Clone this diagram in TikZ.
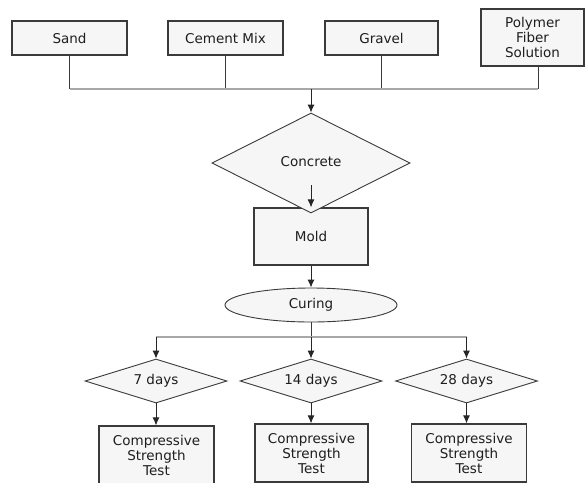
\documentclass[tikz,border=0pt]{standalone}
\usepackage{fontspec}
\setmainfont{DejaVu Sans}
\usetikzlibrary{shapes.geometric,arrows.meta,calc}
\definecolor{boxfill}{HTML}{F6F6F6}
\definecolor{boxdraw}{HTML}{3A3A3A}
\definecolor{busgray}{HTML}{A8A8A8}
\definecolor{txt}{HTML}{1E1E1E}
\begin{document}
\begin{tikzpicture}[x=1pt,y=-1pt,
  every node/.style={font=\fontsize{13.5}{15}\selectfont, text=txt},
  boxnode/.style={draw=boxdraw, fill=boxfill, line width=1.1pt, inner sep=0pt, align=center},
  dia/.style={draw=boxdraw, fill=boxfill, line width=0.9pt, shape=diamond, inner sep=0pt},
  vline/.style={draw=boxdraw, line width=1pt},
  bus/.style={draw=busgray, line width=1.3pt},
  arr/.style={draw=black!85, line width=1pt, -{Latex[length=8pt,width=7pt]}}
]
\useasboundingbox (0,0) rectangle (585,482);
\clip (0,0) rectangle (585,482);

% top inputs
\node[boxnode, minimum width=115pt, minimum height=34pt] (sand) at (69.5,38) {Sand};
\node[boxnode, minimum width=115pt, minimum height=34pt] (cement) at (225.5,38) {Cement Mix};
\node[boxnode, minimum width=113pt, minimum height=34pt] (gravel) at (381.5,38) {Gravel};
\node[boxnode, minimum width=103pt, minimum height=57pt] (polymer) at (532.5,37.5) {Polymer\\Fiber\\Solution};

\coordinate (hub) at (311,89);
\coordinate (pdrop) at ([xshift=5.5pt]polymer.south);

\draw[vline] (sand.south) -- (sand.south |- hub);
\draw[vline] (cement.south) -- (cement.south |- hub);
\draw[vline] (gravel.south) -- (gravel.south |- hub);
\draw[vline] (pdrop) -- (pdrop |- hub);
\draw[bus] (sand.south |- hub) -- (pdrop |- hub);

% mold and concrete
\node[boxnode, minimum width=114pt, minimum height=57pt] (mold) at (311,236.5) {Mold};
\node[dia, minimum width=198pt, minimum height=100pt, aspect=2] (concrete) at (311,163) {};
\node at (311,162) {Concrete};

\draw[arr] (hub) -- (concrete.north);
\draw[arr] ([yshift=-22pt]concrete.center) -- (mold.north);

% curing
\node[draw=boxdraw, fill=boxfill, line width=0.9pt, ellipse, inner sep=0pt,
      minimum width=172pt, minimum height=34pt] (curing) at (311,305) {Curing};
\draw[arr] (mold.south) -- (curing.north);

% branches
\node[dia, minimum width=142pt, minimum height=44pt, aspect=3.2] (d7) at (156,381) {7 days};
\node[dia, minimum width=142pt, minimum height=44pt, aspect=3.2] (d14) at (311,381) {14 days};
\node[dia, minimum width=142pt, minimum height=44pt, aspect=3.2] (d28) at (466.5,381) {28 days};

\coordinate (hub2) at (311,337);
\draw[vline] (curing.south) -- (hub2);
\draw[bus] (d7.north |- hub2) -- (d28.north |- hub2);
\draw[arr] (d7.north |- hub2) -- (d7.north);
\draw[arr] (hub2) -- (d14.north);
\draw[arr] (d28.north |- hub2) -- (d28.north);

% tests
\node[boxnode, minimum width=115pt, minimum height=58pt] (t7) at (156.5,455) {Compressive\\Strength\\Test};
\node[boxnode, minimum width=113pt, minimum height=58pt] (t14) at (311.5,453) {Compressive\\Strength\\Test};
\node[boxnode, minimum width=115pt, minimum height=58pt] (t28) at (469,453) {Compressive\\Strength\\Test};

\draw[arr] (d7.south) -- (d7.south |- t7.north);
\draw[arr] (d14.south) -- (d14.south |- t14.north);
\draw[arr] (d28.south) -- (d28.south |- t28.north);
\end{tikzpicture}
\end{document}
